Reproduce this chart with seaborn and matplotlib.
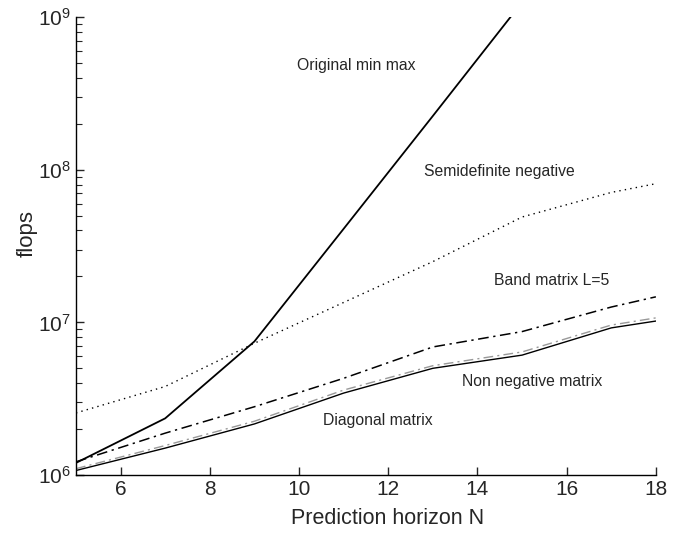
import matplotlib
matplotlib.use("Agg")
import matplotlib.pyplot as plt
import seaborn as sns
import pandas as pd
import numpy as np
from matplotlib.ticker import LogLocator, FixedLocator

# ---- data ----
N_orig = [5, 7, 9, 11, 13, 15]
orig = [1.2e6, 2.35e6, 7.5e6, 4.1e7, 2.25e8, 1.25e9]

N_all = [5, 7, 9, 11, 13, 15, 17, 18]
semidef = [2.55e6, 3.8e6, 7.3e6, 1.35e7, 2.5e7, 4.9e7, 7.1e7, 8.1e7]
band = [1.22e6, 1.88e6, 2.8e6, 4.3e6, 6.9e6, 8.7e6, 1.26e7, 1.47e7]
nonneg = [1.1e6, 1.56e6, 2.25e6, 3.6e6, 5.2e6, 6.4e6, 9.6e6, 1.07e7]
diag = [1.07e6, 1.5e6, 2.16e6, 3.44e6, 5.0e6, 6.1e6, 9.2e6, 1.02e7]

labels = ["Original min max", "Semidefinite negative", "Band matrix L=5",
          "Non negative matrix", "Diagonal matrix"]
label_pos = [(11.28, 4.85e8), (14.50, 9.8e7), (15.66, 1.87e7),
             (15.22, 4.07e6), (11.77, 2.26e6)]
x_ticks = [6, 8, 10, 12, 14, 16, 18]

sns.set_style("ticks")
plt.rcParams['font.family'] = ['Liberation Sans', 'DejaVu Sans']
plt.rcParams['mathtext.default'] = 'regular'

fig = plt.figure(figsize=(6.97, 5.34), dpi=100)
ax = fig.add_axes([0.109, 0.1105, 0.832, 0.8575])

series = [
    (N_orig, orig, dict(color="black", linestyle="-", linewidth=1.3)),
    (N_all, semidef, dict(color="black", linestyle=(0, (1, 3)), linewidth=1.0)),
    (N_all, band, dict(color="black", linestyle=(0, (7, 3, 1.5, 3)), linewidth=1.1)),
    (N_all, nonneg, dict(color="#999999", linestyle=(0, (7, 3, 1.5, 3)), linewidth=1.0)),
    (N_all, diag, dict(color="black", linestyle="-", linewidth=1.0)),
]
for xs, ys, kw in series:
    df = pd.DataFrame({"N": xs, "flops": ys})
    sns.lineplot(data=df, x="N", y="flops", ax=ax, **kw)

ax.set_yscale("log")
ax.set_xlim(5, 18)
ax.set_ylim(1e6, 1e9)
ax.xaxis.set_major_locator(FixedLocator(x_ticks))
ax.yaxis.set_major_locator(LogLocator(base=10, numticks=10))
ax.yaxis.set_minor_locator(LogLocator(base=10, subs=np.arange(2, 10), numticks=10))

for txt, (x, y) in zip(labels, label_pos):
    ax.text(x, y, txt, ha="center", va="center", fontsize=11.3)

ax.set_xlabel("Prediction horizon N", fontsize=15.5)
ax.set_ylabel("flops", fontsize=16)
ax.xaxis.set_label_coords(0.538, -0.072)
ax.yaxis.set_label_coords(-0.066, 0.527)
ax.tick_params(axis="both", which="both", direction="in", labelsize=15)
ax.tick_params(axis="both", which="major", length=6, width=1)
ax.tick_params(axis="y", which="minor", length=4, width=0.8)
sns.despine(ax=ax)
for s in ["left", "bottom"]:
    ax.spines[s].set_linewidth(1.0)
    ax.spines[s].set_color("black")

fig.savefig("out.png", dpi=100)
